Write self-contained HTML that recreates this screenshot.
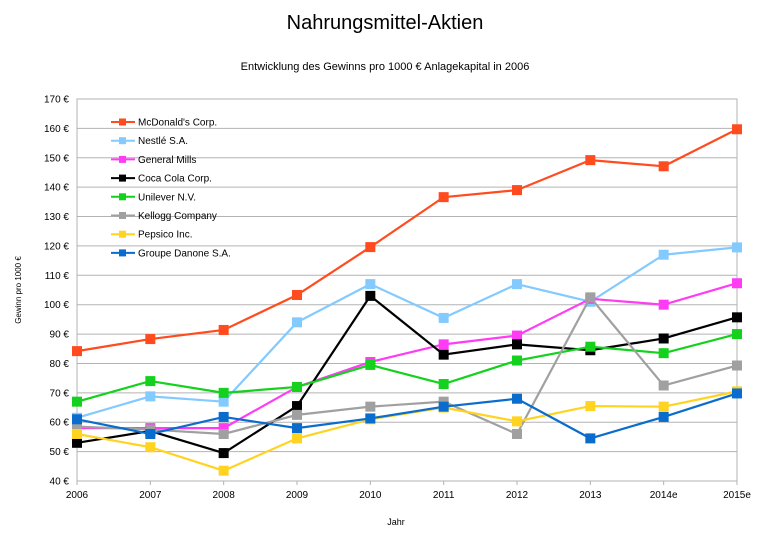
<!DOCTYPE html>
<html><head><meta charset="utf-8"><style>
body{margin:0;background:#fff;width:770px;height:536px;overflow:hidden}
text{font-family:"Liberation Sans",sans-serif;fill:#000}
</style></head><body>
<svg id="chart" width="770" height="536">
<text x="385" y="29" font-size="20" text-anchor="middle">Nahrungsmittel-Aktien</text>
<text x="385" y="70" font-size="11" text-anchor="middle">Entwicklung des Gewinns pro 1000 € Anlagekapital in 2006</text>
<text x="21" y="290" font-size="8" text-anchor="middle" transform="rotate(-90 21 290)">Gewinn pro 1000 €</text>
<text x="396" y="525" font-size="9" text-anchor="middle">Jahr</text>
<g id="grid"></g><g id="series"></g><g id="legend"></g>
</svg>
<script>
const categories=["2006","2007","2008","2009","2010","2011","2012","2013","2014e","2015e"];
const yTicks=[40,50,60,70,80,90,100,110,120,130,140,150,160,170];
const names=["McDonald's Corp.","Nestlé S.A.","General Mills","Coca Cola Corp.","Unilever N.V.","Kellogg Company","Pepsico Inc.","Groupe Danone S.A."];
const colors=["#ff4b1e","#83caff","#ff3bf5","#000000","#14d11e","#a0a0a0","#ffd320","#0a6ccc"];
const mcdonalds=[84.2,88.3,91.4,103.3,119.6,136.6,139,149.2,147.1,159.7];
const nestle=[61.5,68.8,67,94,107,95.5,107,101,117,119.5];
const generalMills=[58,58,58,72,80.5,86.5,89.5,102,100,107.3];
const cocaCola=[53,57,49.5,65.5,103,83,86.5,84.5,88.5,95.7];
const unilever=[67,74,70,72,79.5,73,81,85.7,83.5,90];
const kellogg=[58.5,57.5,56,62.5,65.3,67,56,102.5,72.5,79.3];
const pepsico=[56,51.5,43.5,54.5,61,65,60.3,65.5,65.3,70.5];
const danone=[61,56,61.8,58,61.3,65.3,68,54.5,61.8,69.8];
const seriesData=[mcdonalds,nestle,generalMills,cocaCola,unilever,kellogg,pepsico,danone];
const X0=77,X1=737,Y0=481,Y1=99,VMIN=40,VMAX=170;
const xs=i=>X0+i*(X1-X0)/(categories.length-1);
const ys=v=>Y0-(v-VMIN)*(Y0-Y1)/(VMAX-VMIN);
const NS="http://www.w3.org/2000/svg";
function mk(tag,attrs,parent){const e=document.createElementNS(NS,tag);for(const k in attrs)e.setAttribute(k,attrs[k]);parent.appendChild(e);return e;}
const grid=document.getElementById('grid');
yTicks.forEach(v=>{
 const l=mk('line',{x1:X0,x2:X1,y1:ys(v),y2:ys(v),stroke:'#b3b3b3','stroke-width':1},grid);
 
 
 const t=mk('text',{x:X0-8,y:ys(v)+3.5,'font-size':10,'text-anchor':'end'},grid);t.textContent=v+' €';
 
 
});
const b=mk('rect',{x:X0,y:Y1,width:X1-X0,height:Y0-Y1,fill:'none',stroke:'#b3b3b3'},grid);


categories.forEach((c,i)=>{
 const tk=mk('line',{x1:xs(i),x2:xs(i),y1:Y0,y2:Y0+4,stroke:'#b3b3b3'},grid);
 
 
 const t=mk('text',{x:xs(i),y:Y0+17,'font-size':10,'text-anchor':'middle'},grid);t.textContent=c;
 
 
});
const sg=document.getElementById('series');
seriesData.forEach((d,s)=>{
 const g=mk('g',{},sg);
 
 
 const p=mk('polyline',{points:d.map((v,i)=>xs(i)+','+ys(v)).join(' '),fill:'none',stroke:colors[s],'stroke-width':2.2},g);
 
 
 d.forEach((v,i)=>{
  const r=mk('rect',{x:xs(i)-5,y:ys(v)-5,width:10,height:10,fill:colors[s]},g);
  
  
 });
});
const lg=document.getElementById('legend');
names.forEach((n,s)=>{
 const y=122+s*18.7;
 const g=mk('g',{},lg);
 
 
 mk('line',{x1:111,x2:135,y1:y,y2:y,stroke:colors[s],'stroke-width':2},g);
 mk('rect',{x:119,y:y-3.5,width:7,height:7,fill:colors[s]},g);
 const t=mk('text',{x:138,y:y+3.5,'font-size':10},g);t.textContent=n;
});
</script>
</body></html>
